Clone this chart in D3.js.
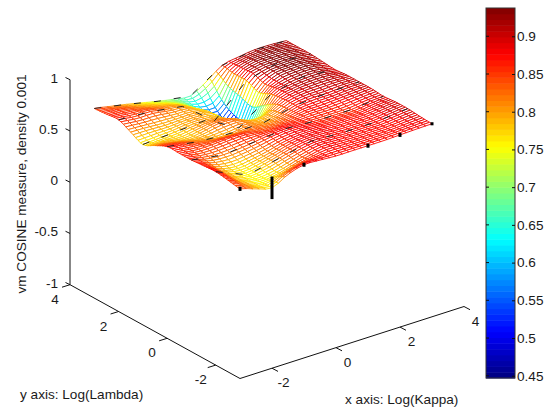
<!DOCTYPE html>
<html>
<head>
<meta charset="utf-8">
<script src="https://cdn.jsdelivr.net/npm/d3@7"></script>
<style>
html,body{margin:0;padding:0;background:#fff;}
svg{display:block;}
text{font-family:"Liberation Sans",Arial,sans-serif;font-size:13.6px;fill:#1a1a1a;}
</style>
</head>
<body>
<svg id="chart" width="545" height="412"></svg>
<script>
const kappaValues = [-3,-2.5,-2,-1.5,-1,-.5,0,.5,1,1.5,2,2.5,3];
const lambdaValues = [3,2.5,2,1.5,1,.5,0,-.5,-1,-1.5,-2,-2.5,-3];
const rowA = [.85,.82,.79,.755,.72,.69,.67,.76,.87,.90,.92,.92,.91];
const rowB = [.86,.85,.82,.79,.76,.70,.60,.60,.85,.92,.93,.93,.91];
const rowC = [.87,.85,.85,.82,.80,.72,.56,.51,.85,.92,.93,.93,.91];
const rowD = [.815,.81,.80,.80,.80,.76,.58,.51,.80,.91,.93,.93,.90];
const rowE = [.76,.77,.78,.80,.80,.77,.62,.62,.85,.90,.92,.92,.89];
const rowF = [.815,.80,.78,.80,.83,.82,.76,.78,.87,.90,.91,.91,.90];
const rowG = [.87,.85,.82,.80,.80,.82,.80,.82,.87,.89,.89,.90,.90];
const rowH = [.87,.85,.85,.86,.86,.84,.84,.85,.87,.87,.88,.89,.90];
const rowI = [.87,.83,.82,.83,.85,.87,.88,.87,.86,.86,.86,.88,.89];
const rowJ = [.88,.80,.77,.79,.82,.86,.88,.88,.87,.87,.87,.885,.90];
const rowK = [.887,.79,.756,.78,.82,.86,.885,.88,.87,.87,.87,.885,.90];
const rowL = [.87,.79,.755,.77,.81,.85,.88,.875,.87,.87,.87,.88,.89];
const rowM = [.85,.80,.76,.84,.885,.88,.87,.87,.87,.87,.875,.88,.883];
const cosineRows = [rowA,rowB,rowC,rowD,rowE,rowF,rowG,rowH,rowI,rowJ,rowK,rowL,rowM];
const frontKappa = [-3,-2,-1,1,2,3];
const frontCosine = [.85,.76,.885,.87,.875,.883];
const frontErrors = [.02,.11,.02,.02,.02,.015];
const xTicks = [-2,0,2,4];
const yTicks = [-2,0,2,4];
const zTicks = [-1,-0.5,0,0.5,1];
const zTickLabels = ["-1","-0.5","0","0.5","1"];
const barTicks = [.45,.5,.55,.6,.65,.7,.75,.8,.85,.9];
const xTitle = "x axis: Log(Kappa)";
const yTitle = "y axis: Log(Lambda)";
const zTitle = "vm COSINE measure, density 0.001";

const svg = d3.select("#chart");
const X0=-3, X1=4, Y0=-3, Y1=4;
const xToPx = d3.scaleLinear().domain([X0,X1]).range([0,224]);
const xToPy = d3.scaleLinear().domain([X0,X1]).range([0,-72]);
const yToPx = d3.scaleLinear().domain([Y0,Y1]).range([0,-170]);
const yToPy = d3.scaleLinear().domain([Y0,Y1]).range([0,-93.8]);
const zToPy = d3.scaleLinear().domain([-1,1]).range([0,-205]);
const originX = 240, originY = 378.5;
const px = (x,y)=>originX+xToPx(x)+yToPx(y);
const py = (x,y,z)=>originY+xToPy(x)+yToPy(y)+zToPy(z);

const cbar = d3.scaleLinear().domain([.447,.9375]).range([378,8]);
function jet(t){
  const c=v=>Math.round(255*Math.max(0,Math.min(1,v)));
  return `rgb(${c(1.5-Math.abs(4*t-3))},${c(1.5-Math.abs(4*t-2))},${c(1.5-Math.abs(4*t-1))})`;
}
const colorOf = z=>{
  const t=(z-.447)/(.9375-.447);
  return jet((Math.min(63,Math.max(0,Math.floor(t*64)))+.5)/64);
};

// smooth surface through the read values, for the drawing mesh
const cr=(a,b,c,d,t)=>b+.5*t*(c-a+t*(2*a-5*b+4*c-d+t*(3*(b-c)+d-a)));
const nG=cosineRows.length-1;
function surf(x,y){
  const i=(x+3)*2, j=(3-y)*2;
  const i0=Math.min(nG-1,Math.floor(i)), j0=Math.min(nG-1,Math.floor(j));
  const ti=i-i0,tj=j-j0;
  const g=(a,b)=>cosineRows[Math.max(0,Math.min(nG,b))][Math.max(0,Math.min(nG,a))];
  const rows=[-1,0,1,2].map(dj=>cr(g(i0-1,j0+dj),g(i0,j0+dj),g(i0+1,j0+dj),g(i0+2,j0+dj),ti));
  return cr(rows[0],rows[1],rows[2],rows[3],tj);
}

const stepX=.2, stepY=.1;
const nX=Math.round(6/stepX), nY=Math.round(6/stepY);
const cells=[];
for(let b=0;b<nY;b++){
  for(let a=nX-1;a>=0;a--){
    const xa=-3+a*stepX, xb=xa+stepX;
    const yb=3-b*stepY, ya=yb-stepY;
    cells.push([[xa,yb],[xb,yb],[xb,ya],[xa,ya]].map(([x,y])=>{const z=surf(x,y);return [px(x,y),py(x,y,z),z];}));
  }
}
const line=d3.line();
svg.append("g").selectAll("path").data(cells).join("path")
  .attr("d",d=>line(d.map(p=>[p[0],p[1]]))+"Z")
  .attr("fill","#fff")
  .attr("stroke",d=>colorOf(d3.mean(d,p=>p[2])))
  .attr("stroke-width",.9);

// black data rows
const rowLine=d3.line().x(d=>px(d.x,d.y)).y(d=>py(d.x,d.y,d.z));
const blackRows=cosineRows.filter((r,j)=>j%2===0 && j<12).map((r,j)=>r.filter((z,i)=>i%2===0).map((z,i)=>({x:-3+i,y:3-j,z})));
svg.append("g").selectAll("path").data(blackRows)
  .join("path").attr("d",rowLine).attr("fill","none").attr("stroke","#222")
  .attr("stroke-width",1).attr("stroke-dasharray","7 13");

// front error marks
svg.append("g").selectAll("line").data(frontErrors.map((e,i)=>({x:frontKappa[i],z:frontCosine[i],e})))
  .join("line")
  .attr("x1",d=>px(d.x,-3)).attr("x2",d=>px(d.x,-3))
  .attr("y1",d=>py(d.x,-3,d.z+d.e)).attr("y2",d=>py(d.x,-3,d.z-d.e))
  .attr("stroke","#000").attr("stroke-width",3);

// 3D axes
const axes=svg.append("g").attr("stroke","#111").attr("fill","none");
axes.append("line").attr("x1",px(X1,Y0)).attr("y1",py(X1,Y0,-1)).attr("x2",px(X0,Y0)).attr("y2",py(X0,Y0,-1));
axes.append("line").attr("x1",px(X0,Y0)).attr("y1",py(X0,Y0,-1)).attr("x2",px(X0,Y1)).attr("y2",py(X0,Y1,-1));
axes.append("line").attr("x1",px(X0,Y1)).attr("y1",py(X0,Y1,-1)).attr("x2",px(X0,Y1)).attr("y2",py(X0,Y1,1));
axes.selectAll(".tx").data(xTicks).join("line").attr("class","tx")
  .attr("x1",d=>px(d,Y0)).attr("y1",d=>py(d,Y0,-1)).attr("x2",d=>px(d,Y0)+6).attr("y2",d=>py(d,Y0,-1)+3.2);
axes.selectAll(".ty").data(yTicks).join("line").attr("class","ty")
  .attr("x1",d=>px(X0,d)).attr("y1",d=>py(X0,d,-1)).attr("x2",d=>px(X0,d)-8).attr("y2",d=>py(X0,d,-1)+2.5);
axes.selectAll(".tz").data(zTicks).join("line").attr("class","tz")
  .attr("x1",px(X0,Y1)).attr("y1",d=>py(X0,Y1,d)).attr("x2",px(X0,Y1)-4.5).attr("y2",d=>py(X0,Y1,d)-2.2);

// tick labels
const labels=svg.append("g");
labels.selectAll(".lx").data(xTicks).join("text").attr("class","lx")
  .attr("x",d=>px(d,Y0)+11.5).attr("y",d=>py(d,Y0,-1)+19).attr("text-anchor","middle").text(d=>d);
labels.selectAll(".ly").data(yTicks).join("text").attr("class","ly")
  .attr("x",d=>px(X0,d)-15).attr("y",d=>py(X0,d,-1)+19).attr("text-anchor","middle").text(d=>d);
labels.selectAll(".lz").data(zTicks).join("text").attr("class","lz")
  .attr("x",58).attr("y",d=>py(X0,Y1,d)+3).attr("text-anchor","end").text((d,i)=>zTickLabels[i]);
labels.append("text").attr("x",345).attr("y",404).text(xTitle);
labels.append("text").attr("x",20).attr("y",399).text(yTitle);
labels.append("text").attr("transform","translate(26,184) rotate(-90)").attr("text-anchor","middle").text(zTitle);

// colour bar
const barG=svg.append("g");
const levels=d3.range(64);
const lvl=(cbar.domain()[1]-cbar.domain()[0])/64;
barG.selectAll("rect").data(levels).join("rect")
  .attr("x",486).attr("width",29)
  .attr("y",d=>cbar(cbar.domain()[0]+(d+1)*lvl))
  .attr("height",d=>cbar(cbar.domain()[0]+d*lvl)-cbar(cbar.domain()[0]+(d+1)*lvl)+.5)
  .attr("fill",d=>jet((d+.5)/64));
barG.append("rect").attr("x",486).attr("y",8).attr("width",29).attr("height",370).attr("fill","none").attr("stroke","#333");
const barAxis=d3.axisRight(cbar).tickValues(barTicks).tickSize(3).tickPadding(1).tickFormat(d=>String(d));
const ba=barG.append("g").attr("transform","translate(515,0)").call(barAxis);
ba.select(".domain").remove();
ba.selectAll(".tick line").attr("x2",-3).attr("stroke","#111");
ba.selectAll(".tick text").attr("x",2);
barG.selectAll(".lt").data(barTicks).join("line").attr("class","lt")
  .attr("x1",486).attr("x2",489).attr("y1",d=>cbar(d)).attr("y2",d=>cbar(d)).attr("stroke","#111");
</script>
</body>
</html>
